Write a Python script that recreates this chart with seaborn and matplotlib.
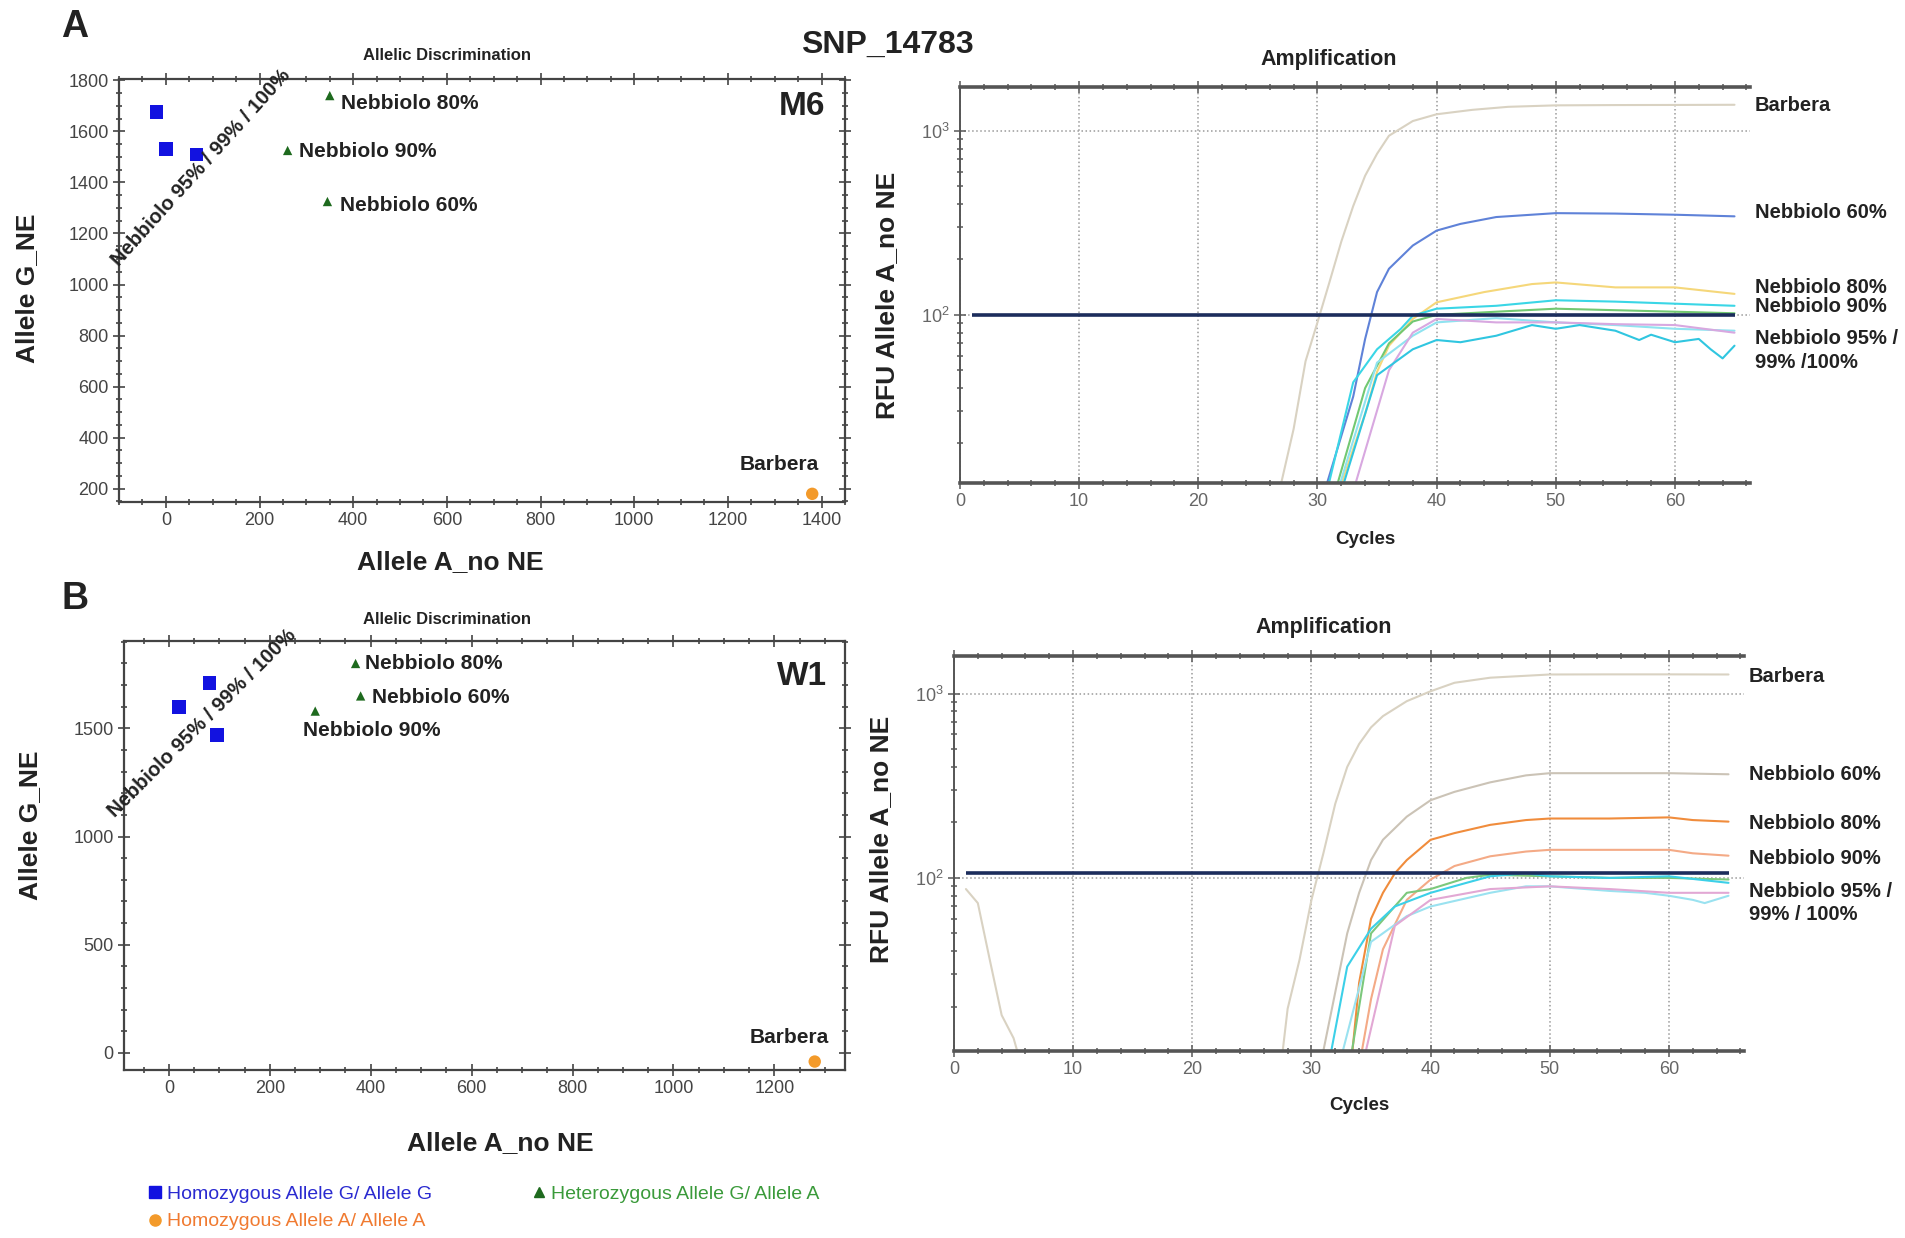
import numpy as np
import pandas as pd
import matplotlib
matplotlib.use('Agg')
import matplotlib.pyplot as plt
import matplotlib.ticker as mticker
from matplotlib.lines import Line2D
import seaborn as sns

sns.set_style('ticks')
plt.rcParams['font.family'] = ['Liberation Sans', 'DejaVu Sans']

# ---------------- allelic discrimination data ----------------
m6_allele_a = [-20, 0, 65, 350, 260, 345, 1380]
m6_allele_g = [1675, 1530, 1510, 1740, 1525, 1325, 180]
m6_geno = ['GG', 'GG', 'GG', 'GA', 'GA', 'GA', 'AA']
m6_names = ['', '', '', 'Nebbiolo 80%', 'Nebbiolo 90%', 'Nebbiolo 60%', 'Barbera']

w1_allele_a = [20, 80, 95, 370, 380, 290, 1280]
w1_allele_g = [1600, 1710, 1470, 1800, 1650, 1580, -40]
w1_geno = ['GG', 'GG', 'GG', 'GA', 'GA', 'GA', 'AA']
w1_names = ['', '', '', 'Nebbiolo 80%', 'Nebbiolo 60%', 'Nebbiolo 90%', 'Barbera']

geno_labels = {'GG': 'Homozygous Allele G/ Allele G',
               'AA': 'Homozygous Allele A/ Allele A',
               'GA': 'Heterozygous Allele G/ Allele A'}
geno_colors = {'GG': '#1212e0', 'AA': '#f39a2a', 'GA': '#1e6a1e'}
geno_markers = {'GG': 's', 'AA': 'o', 'GA': '^'}
geno_sizes = {'GG': 95, 'AA': 80, 'GA': 45}
legend_text_colors = ['#2a2ad0', '#f07a30', '#3a9a3a']

# ---------------- amplification data (RFU vs cycle) ----------------
# M6
barbera_a_cyc = [26.8, 28, 29, 30, 31, 32, 33, 34, 35, 36, 38, 40, 43, 46, 50, 55, 60, 65]
barbera_a_rfu = [11, 24, 56, 91, 150, 250, 390, 570, 750, 940, 1130, 1230, 1300, 1350, 1375, 1380, 1382, 1385]
neb60_a_cyc = [30.6, 33, 34, 35, 36, 38, 40, 42, 45, 50, 55, 60, 65]
neb60_a_rfu = [11, 36, 74, 133, 178, 238, 287, 312, 340, 357, 355, 350, 343]
neb80_a_cyc = [31.8, 34, 35, 36, 38, 40, 44, 48, 50, 55, 60, 65]
neb80_a_rfu = [11, 29, 49, 68, 95, 117, 133, 147, 150, 141, 141, 130]
neb90_a_cyc = [30.8, 33, 35, 37, 38, 40, 45, 50, 55, 60, 65]
neb90_a_rfu = [11, 43, 65, 84, 99, 108, 112, 120, 118, 115, 112]
green_a_cyc = [31.5, 34, 36, 38, 40, 45, 50, 55, 60, 65]
green_a_rfu = [11, 40, 70, 92, 100, 104, 108, 106, 104, 102]
n95_a1_cyc = [31.7, 35, 38, 40, 45, 50, 55, 60, 65]
n95_a1_rfu = [11, 55, 77, 91, 96, 91, 88, 84, 82]
n95_a2_cyc = [32, 35, 38, 40, 42, 45, 48, 50, 52, 55, 57, 58, 60, 62, 63, 64, 65]
n95_a2_rfu = [11, 47, 65, 73, 71, 77, 88, 84, 88, 82, 73, 78, 71, 74, 65, 58, 68]
n95_a3_cyc = [33, 36, 38, 40, 45, 50, 55, 60, 65]
n95_a3_rfu = [11, 50, 80, 95, 91, 91, 89, 88, 80]
threshold_a = 100

# W1
barbera_b_cyc = [1, 2, 3, 4, 5, 6, 27.3, 28, 29, 30, 31, 32, 33, 34, 35, 36, 38, 40, 42, 45, 50, 55, 60, 65]
barbera_b_rfu = [87, 73, 36, 18, 13.5, 8, 8, 19.5, 36, 76, 136, 253, 400, 533, 656, 755, 910, 1030, 1145, 1220, 1270, 1272, 1272, 1270]
neb60_b_cyc = [30.5, 33, 34, 35, 36, 38, 40, 42, 45, 48, 50, 55, 60, 65]
neb60_b_rfu = [8, 50, 83, 125, 161, 215, 264, 293, 330, 360, 370, 370, 370, 365]
neb80_b_cyc = [33.2, 34, 35, 36, 37, 38, 40, 42, 45, 48, 50, 55, 60, 62, 65]
neb80_b_rfu = [8, 27, 60, 83, 106, 125, 161, 175, 194, 206, 210, 210, 213, 206, 202]
neb90_b_cyc = [33.8, 35, 36, 38, 40, 42, 45, 48, 50, 55, 60, 62, 65]
neb90_b_rfu = [8, 22, 41, 76, 98, 116, 131, 139, 142, 142, 142, 136, 132]
green_b_cyc = [33, 35, 38, 40, 43, 45, 50, 55, 60, 65]
green_b_rfu = [8, 50, 83, 87, 100, 104, 102, 100, 100, 98]
n95_b1_cyc = [31.2, 33, 35, 37, 40, 43, 45, 48, 50, 55, 60, 65]
n95_b1_rfu = [8, 33, 53, 70, 83, 94, 102, 106, 102, 100, 102, 94]
n95_b2_cyc = [32, 35, 38, 40, 45, 48, 50, 53, 55, 58, 60, 62, 63, 65]
n95_b2_rfu = [8, 45, 62, 70, 83, 90, 90, 87, 85, 83, 80, 76, 73, 80]
n95_b3_cyc = [34, 37, 40, 45, 50, 55, 60, 65]
n95_b3_rfu = [8, 55, 76, 87, 90, 87, 83, 83]
threshold_b = 106

curves_a = {
    'barbera': (barbera_a_cyc, barbera_a_rfu, '#d9d2c2'),
    'neb60': (neb60_a_cyc, neb60_a_rfu, '#5f82d8'),
    'neb80': (neb80_a_cyc, neb80_a_rfu, '#f5d77a'),
    'green': (green_a_cyc, green_a_rfu, '#72c872'),
    'neb90': (neb90_a_cyc, neb90_a_rfu, '#3ad6e6'),
    'n95_1': (n95_a1_cyc, n95_a1_rfu, '#8fe3f0'),
    'n95_3': (n95_a3_cyc, n95_a3_rfu, '#d8a8e0'),
    'n95_2': (n95_a2_cyc, n95_a2_rfu, '#30c6e0'),
}
curves_b = {
    'barbera': (barbera_b_cyc, barbera_b_rfu, '#d9d2c2'),
    'neb60': (neb60_b_cyc, neb60_b_rfu, '#cbc3b6'),
    'neb80': (neb80_b_cyc, neb80_b_rfu, '#f08c3c'),
    'neb90': (neb90_b_cyc, neb90_b_rfu, '#f4aa86'),
    'green': (green_b_cyc, green_b_rfu, '#7cc87c'),
    'n95_2': (n95_b2_cyc, n95_b2_rfu, '#9ae2f0'),
    'n95_3': (n95_b3_cyc, n95_b3_rfu, '#e2a8d4'),
    'n95_1': (n95_b1_cyc, n95_b1_rfu, '#3cd0e8'),
}

labels_a = [('Barbera', 1380), ('Nebbiolo 60%', 360), ('Nebbiolo 80%', 140),
            ('Nebbiolo 90%', 111), ('Nebbiolo 95% /\n99% /100%', 64)]
labels_b = [('Barbera', 1236), ('Nebbiolo 60%', 362), ('Nebbiolo 80%', 198),
            ('Nebbiolo 90%', 127), ('Nebbiolo 95% /\n99% / 100%', 73)]

W, H = 1906, 1238
fig = plt.figure(figsize=(W / 100, H / 100), dpi=100)


def px_axes(l, t, r, b):
    return fig.add_axes([l / W, 1 - b / H, (r - l) / W, (b - t) / H])


def scatter_panel(ax, xa, yg, geno, names, offsets, xlim, ylim, xt, yt, xminor, yminor,
                  tag, tagpos, grp_xy, grp_rot):
    df = pd.DataFrame({'a': xa, 'g': yg, 'geno': geno, 'name': names})
    for gk in ['GG', 'GA', 'AA']:
        sub = df[df.geno == gk]
        sns.scatterplot(data=sub, x='a', y='g', ax=ax, color=geno_colors[gk],
                        marker=geno_markers[gk], s=geno_sizes[gk], edgecolor='none',
                        legend=False, zorder=3)
    for _, r in df.iterrows():
        if r['name'] in offsets:
            dx, dy, ha = offsets[r['name']]
            ax.annotate(r['name'], (r['a'], r['g']), xytext=(dx, dy),
                        textcoords='offset points', ha=ha, va='center',
                        fontsize=15, fontweight='bold', color='#222222')
    ax.text(grp_xy[0], grp_xy[1], 'Nebbiolo 95% / 99% / 100%', rotation=grp_rot,
            rotation_mode='anchor', ha='center', va='center', fontsize=14.5,
            fontweight='bold', color='#222222')
    ax.text(tagpos[0], tagpos[1], tag, transform=ax.transAxes, ha='center', va='center',
            fontsize=24, fontweight='bold', color='#222222')
    ax.set_xlim(*xlim)
    ax.set_ylim(*ylim)
    ax.set_xticks(xt)
    ax.set_yticks(yt)
    ax.xaxis.set_minor_locator(mticker.MultipleLocator(xminor))
    ax.yaxis.set_minor_locator(mticker.MultipleLocator(yminor))
    ax.tick_params(which='both', direction='inout', top=True, right=True,
                   colors='#444444', labelsize=13, width=1.2)
    ax.tick_params(which='major', length=8)
    ax.tick_params(which='minor', length=5)
    ax.tick_params(top=True, right=True, labeltop=False, labelright=False)
    for s in ax.spines.values():
        s.set_color('#444444')
        s.set_linewidth(1.6)
    ax.set_xlabel('')
    ax.set_ylabel('')


def amp_panel(ax, curves, thr, ylim, labels):
    rows = []
    for k, (c, v, col) in curves.items():
        rows.append(pd.DataFrame({'cycle': c, 'rfu': v, 'curve': k}))
    df = pd.concat(rows, ignore_index=True)
    pal = {k: col for k, (c, v, col) in curves.items()}
    sns.lineplot(data=df, x='cycle', y='rfu', hue='curve', palette=pal, ax=ax,
                 estimator=None, sort=True, legend=False, linewidth=1.5)
    ax.hlines(thr, 1, 65, color='#1c2d5c', linewidth=2.6, zorder=4)
    ax.set_yscale('log')
    ax.set_xlim(0, 66.3)
    ax.set_ylim(*ylim)
    ax.set_xticks(range(0, 70, 10))
    ax.xaxis.set_minor_locator(mticker.MultipleLocator(2))
    ax.yaxis.set_major_locator(mticker.LogLocator(base=10, numticks=10))
    ax.yaxis.set_minor_locator(mticker.LogLocator(base=10, subs=np.arange(2, 10) * 1.0, numticks=20))
    ax.yaxis.set_minor_formatter(mticker.NullFormatter())
    ax.grid(which='major', linestyle=':', color='#9a9a9a', linewidth=1.1)
    ax.tick_params(which='both', direction='inout', top=True, right=False,
                   colors='#666666', labelsize=13, width=1.2)
    ax.tick_params(which='major', length=8)
    ax.tick_params(which='minor', length=5)
    ax.spines['right'].set_visible(False)
    ax.spines['top'].set_linewidth(2.6)
    ax.spines['bottom'].set_linewidth(2.6)
    ax.spines['left'].set_linewidth(1.4)
    for s in ax.spines.values():
        s.set_color('#555555')
    for txt, yv in labels:
        ax.text(66.7, yv, txt, ha='left', va='center', fontsize=14.5, fontweight='bold',
                color='#222222', clip_on=False, linespacing=1.3)
    ax.set_xlabel('')
    ax.set_ylabel('')


ax_sa = px_axes(119, 79, 845, 502)
ax_sb = px_axes(124, 641, 845, 1070)
ax_aa = px_axes(960, 87, 1750, 483)
ax_ab = px_axes(954, 656, 1744, 1051)

off_a = {'Nebbiolo 80%': (8, -6, 'left'), 'Nebbiolo 90%': (8, -1, 'left'),
         'Nebbiolo 60%': (9, -3, 'left'), 'Barbera': (5, 21, 'right')}
off_b = {'Nebbiolo 80%': (7, 0, 'left'), 'Nebbiolo 60%': (8, -1, 'left'),
         'Nebbiolo 90%': (-9, -14, 'left'), 'Barbera': (10, 17, 'right')}

scatter_panel(ax_sa, m6_allele_a, m6_allele_g, m6_geno, m6_names, off_a,
              (-100, 1450), (148, 1805), range(0, 1600, 200), range(200, 2000, 200),
              50, 50, 'M6', (0.941, 0.934), (75, 1457), 48)
scatter_panel(ax_sb, w1_allele_a, w1_allele_g, w1_geno, w1_names, off_b,
              (-89, 1340), (-79, 1904), range(0, 1400, 200), range(0, 2000, 500),
              50, 100, 'W1', (0.940, 0.918), (65, 1522), 45)

amp_panel(ax_aa, curves_a, threshold_a, (12.2, 1730), labels_a)
amp_panel(ax_ab, curves_b, threshold_b, (11.5, 1600), labels_b)

# figure texts
bold = dict(fontweight='bold', color='#222222', ha='center', va='center')
fig.text(75 / W, 1 - 27 / H, 'A', fontsize=27, **bold)
fig.text(75 / W, 1 - 599 / H, 'B', fontsize=27, **bold)
fig.text(887 / W, 1 - 45 / H, 'SNP_14783', fontsize=23, **bold)
fig.text(447 / W, 1 - 55 / H, 'Allelic Discrimination', fontsize=12, **bold)
fig.text(447 / W, 1 - 620 / H, 'Allelic Discrimination', fontsize=12, **bold)
fig.text(1329 / W, 1 - 60 / H, 'Amplification', fontsize=15.5, **bold)
fig.text(1324 / W, 1 - 627 / H, 'Amplification', fontsize=15.5, **bold)
fig.text(450 / W, 1 - 562 / H, 'Allele A_no NE', fontsize=19, **bold)
fig.text(500 / W, 1 - 1143 / H, 'Allele A_no NE', fontsize=19, **bold)
fig.text(27 / W, 1 - 288 / H, 'Allele G_NE', fontsize=19, rotation=90, **bold)
fig.text(30 / W, 1 - 825 / H, 'Allele G_NE', fontsize=19, rotation=90, **bold)
fig.text(887 / W, 1 - 295 / H, 'RFU Allele A_no NE', fontsize=19, rotation=90, **bold)
fig.text(881 / W, 1 - 839 / H, 'RFU Allele A_no NE', fontsize=19, rotation=90, **bold)
fig.text(1365 / W, 1 - 539 / H, 'Cycles', fontsize=13.5, **bold)
fig.text(1359 / W, 1 - 1106 / H, 'Cycles', fontsize=13.5, **bold)

# legend
handles = [Line2D([], [], linestyle='none', marker=geno_markers[g], color=geno_colors[g],
                  markersize=8 if g != 'GA' else 7) for g in ['GG', 'AA', 'GA']]
fig.legend(handles, [geno_labels[g] for g in ['GG', 'AA', 'GA']], ncol=2,
           loc='lower left', bbox_to_anchor=(128 / W, -0.008), frameon=False,
           fontsize=14, labelcolor=legend_text_colors, handletextpad=0.1,
           handlelength=1.0, columnspacing=5.0, labelspacing=0.5)

fig.savefig('out.png', dpi=100)
